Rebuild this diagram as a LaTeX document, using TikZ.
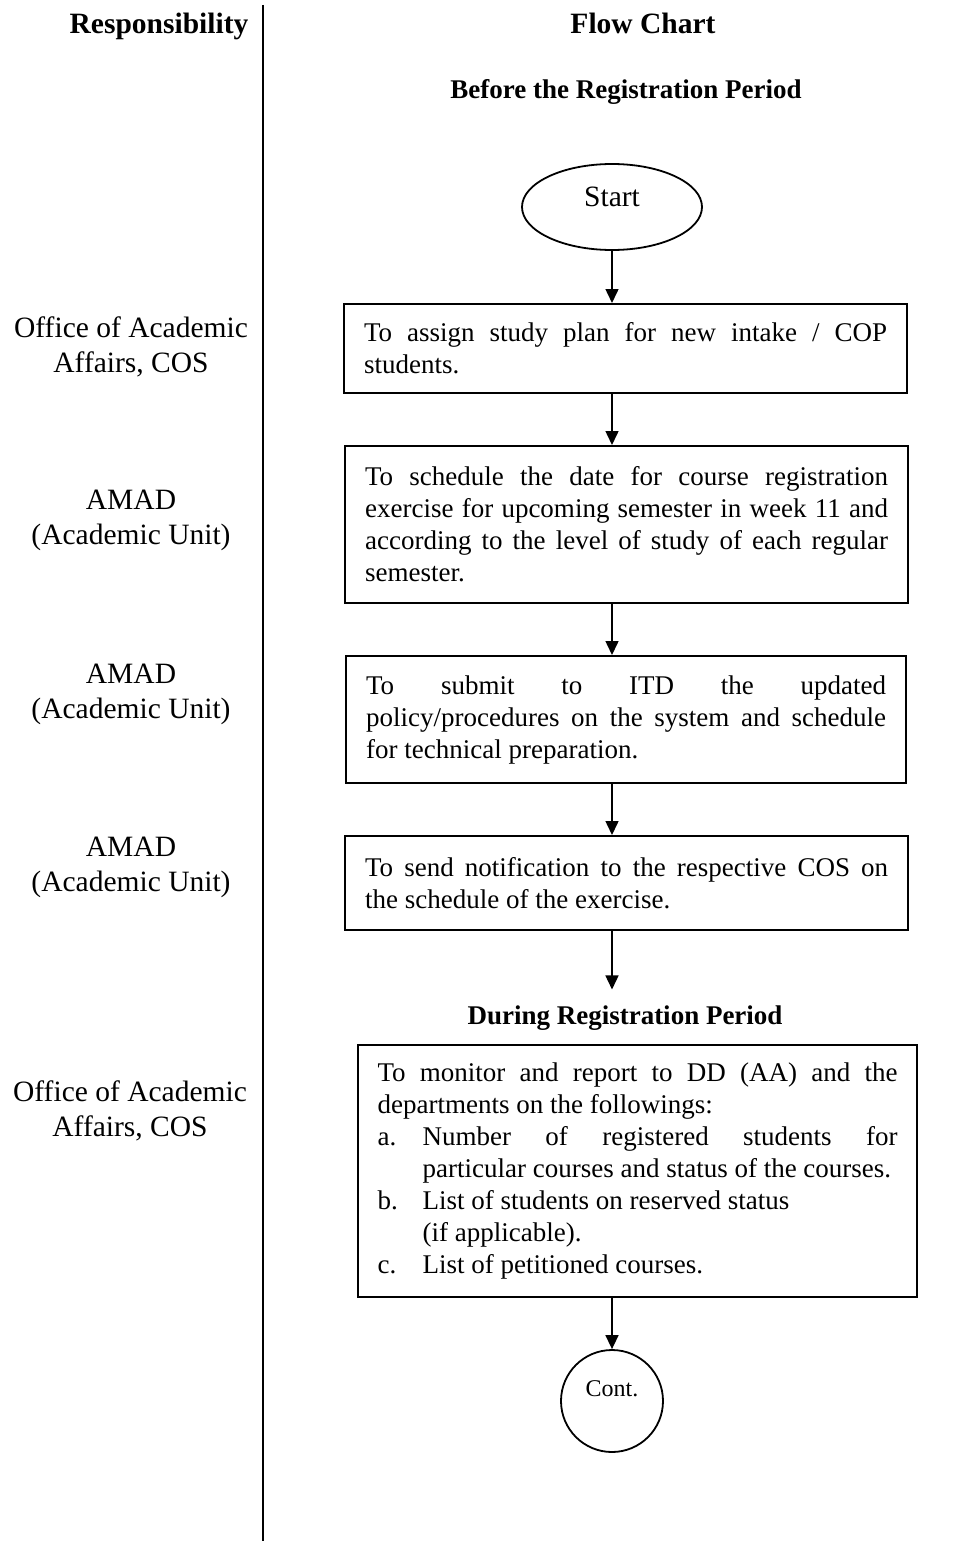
\documentclass[tikz,border=0pt]{standalone}
\usepackage{fontspec}
\setmainfont{Liberation Serif}
\usetikzlibrary{arrows.meta,shapes.geometric}
\begin{document}
\begin{tikzpicture}[x=1pt,y=1pt,
  box/.style={draw, line width=2.2pt, text width=523pt, inner xsep=20pt, inner ysep=0pt,
    align=justify, font=\fontsize{27}{32}\selectfont, anchor=north west},
  lbl/.style={align=center, font=\fontsize{29.5}{34.5}\selectfont},
  head/.style={font=\bfseries\fontsize{29.5}{34}\selectfont, anchor=base},
  sub/.style={font=\bfseries\fontsize{27}{32}\selectfont, anchor=base},
  arr/.style={line width=1.5pt, -{Triangle[length=14pt,width=13pt]}},
  term/.style={draw, line width=1.8pt, inner sep=0pt},
]
\useasboundingbox (0,0) rectangle (974,-1541);
\fill[white] (0,0) rectangle (974,-1541);

% divider
\coordinate (divtop) at (263,-5);
\coordinate (divbot) at (263,-1541);
\draw[line width=2pt] (divtop) -- (divbot);

% headings
\node[head] (resp) at (159,-34) {Responsibility};
\node[head] (flow) at (643,-34) {Flow Chart};
\node[sub] (before) at (626,-99) {Before the Registration Period};
\node[sub, inner ysep=15.6pt] (during) at (625,-1024) {During Registration Period};

% responsibility labels
\node[lbl] (l1) at (131,-347) {Office of Academic\\Affairs, COS};
\node[lbl] (l2) at (131,-520.5) {AMAD\\(Academic Unit)};
\node[lbl] (l3) at (131,-694.5) {AMAD\\(Academic Unit)};
\node[lbl] (l4) at (131,-867.5) {AMAD\\(Academic Unit)};
\node[lbl] (l5) at (130,-1111) {Office of Academic\\Affairs, COS};

% terminals
\node[term, ellipse, minimum width=180pt, minimum height=86pt,
  font=\fontsize{29.5}{34}\selectfont, text depth=20pt] (start) at (612,-207) {Start};
\node[term, circle, minimum size=102pt,
  font=\fontsize{24}{28}\selectfont, text depth=24pt] (cont) at (612,-1401) {Cont.};

% process boxes
\node[box, minimum height=89pt] (b1) at (343,-303)
  {To assign study plan for new intake / COP\linebreak students.};
\node[box, minimum height=157pt] (b2) at (344,-445)
  {To schedule the date for course registration\linebreak exercise for upcoming semester in week 11 and\linebreak according to the level of study of each regular\linebreak semester.};
\node[box, minimum height=127pt, text width=520pt] (b3) at (345,-655)
  {To submit to ITD the updated\linebreak policy/procedures on the system and schedule\linebreak for technical preparation.};
\node[box, minimum height=94pt] (b4) at (344,-835)
  {To send notification to the respective COS on\linebreak the schedule of the exercise.};
\node[box, minimum height=252pt, text width=520pt, inner xsep=19.5pt] (b5) at (357,-1044)
  {\setlength\parindent{0pt}To monitor and report to DD (AA) and the\linebreak departments on the followings:\par
   \hangindent=45pt\hangafter=1\makebox[45pt][l]{a.}Number of registered students for\linebreak particular courses and status of the courses.\par
   \hangindent=45pt\hangafter=1\makebox[45pt][l]{b.}List of students on reserved status\newline (if applicable).\par
   \hangindent=45pt\hangafter=1\makebox[45pt][l]{c.}List of petitioned courses.};

% connectors
\draw[arr] (start) -- (start |- b1.north);
\draw[arr] (b1.south -| start) -- (b2.north -| start);
\draw[arr] (b2.south -| start) -- (b3.north -| start);
\draw[arr] (b3.south -| start) -- (b4.north -| start);
\draw[arr] (b4.south -| start) -- (during.north -| start);
\draw[arr] (b5.south -| start) -- (cont);
\end{tikzpicture}
\end{document}
